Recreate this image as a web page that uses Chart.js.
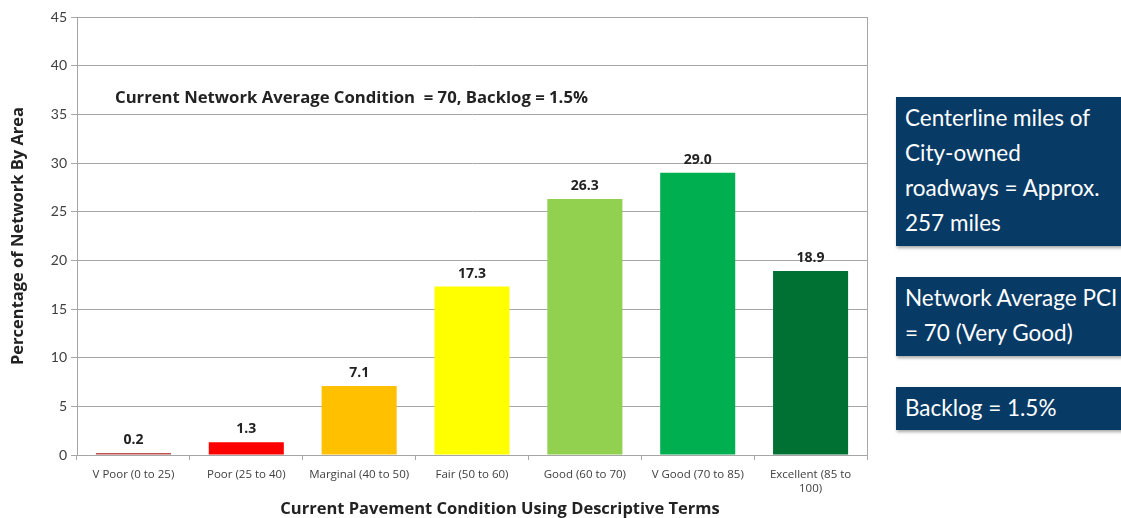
<!DOCTYPE html>
<html>
<head>
<meta charset="utf-8">
<script src="https://cdn.jsdelivr.net/npm/chart.js@4"></script>
<style>
  body { margin: 0; background: #fff; font-family: Lato, "Open Sans", sans-serif; }
  #wrap { position: relative; width: 1121px; height: 518px; overflow: hidden; }
  #chart-box { position: absolute; left: 0; top: 0; width: 880px; height: 518px; }
  .note { position: absolute; left: 115px; top: 85px; font-family: "Open Sans", sans-serif; font-weight: bold;
          font-size: 16.7px; color: #222; white-space: pre; }
  .x-title { position: absolute; left: 250px; width: 500px; top: 496px; text-align: center; white-space: nowrap;
             font-family: "Open Sans", sans-serif; font-weight: bold; font-size: 16.5px; color: #222; }
  .info { position: absolute; left: 896px; width: 240px; background: #083a66; color: #fff;
          font-size: 22.5px; line-height: 35px; padding: 3px 9px; box-sizing: border-box;
          box-shadow: 1px 2px 3px rgba(0,0,0,0.35); white-space: nowrap; }
</style>
</head>
<body>
<div id="wrap">
  <div id="chart-box"><canvas id="pci-chart"></canvas></div>
  <div class="note">Current Network Average Condition  = 70, Backlog = 1.5%</div>
  <div class="x-title">Current Pavement Condition Using Descriptive Terms</div>
  <div class="info" style="top:97px;height:149px;">Centerline miles of<br>City-owned<br>roadways = Approx.<br>257 miles</div>
  <div class="info" style="top:277px;height:79px;">Network Average PCI<br>= 70 (Very Good)</div>
  <div class="info" style="top:387px;height:43px;">Backlog = 1.5%</div>
</div>
<script>
// Chart data
const categories = [
    "V Poor (0 to 25)",
    "Poor (25 to 40)",
    "Marginal (40 to 50)",
    "Fair (50 to 60)",
    "Good (60 to 70)",
    "V Good (70 to 85)",
    ["Excellent (85 to", "100)"]
];
const percentByArea = [0.2, 1.3, 7.1, 17.3, 26.3, 29.0, 18.9];
const barColors = ["#c0504d", "#ff0000", "#ffc000", "#ffff00", "#92d050", "#00b050", "#007033"];
const yTicks = [0, 5, 10, 15, 20, 25, 30, 35, 40, 45];

// Draws the value above each bar
const valueLabels = {
    id: 'valueLabels',
    afterDatasetsDraw: (chart) => {
        const ctx = chart.ctx;
        const meta = chart.getDatasetMeta(0);
        ctx.save();
        ctx.font = "bold 14px 'Open Sans', sans-serif";
        ctx.fillStyle = "#222";
        ctx.textAlign = "center";
        ctx.textBaseline = "bottom";
        meta.data.forEach((bar, i) => {
            ctx.fillText(percentByArea[i].toFixed(1), bar.x, bar.y - 6);
        });
        ctx.restore();
    }
};

const ctx = document.getElementById('pci-chart').getContext('2d');
new Chart(ctx, {
    type: 'bar',
    data: {
        labels: categories,
        datasets: [{
            data: percentByArea,
            backgroundColor: barColors,
            barPercentage: 0.665,
            categoryPercentage: 1
        }]
    },
    options: {
        responsive: true,
        maintainAspectRatio: false,
        animation: false,
        layout: { padding: { top: 17, right: 13, bottom: 0, left: 0 } },
        plugins: { legend: { display: false }, tooltip: { enabled: false } },
        scales: {
            x: {
                offset: true,
                grid: { drawOnChartArea: false, drawTicks: true, tickLength: 5, color: '#a6a6a6', offset: true },
                border: { color: '#a6a6a6' },
                ticks: { color: '#404040', font: { size: 11.5, family: 'Open Sans' }, maxRotation: 0, autoSkip: false, padding: 8, lineHeight: 1.3 },
                afterFit: (scale) => { scale.height = 63; }
            },
            y: {
                min: 0,
                max: 45,
                afterBuildTicks: (scale) => { scale.ticks = yTicks.map(v => ({ value: v })); },
                grid: { color: '#a6a6a6', drawTicks: true, tickLength: 6 },
                border: { color: '#a6a6a6' },
                ticks: { color: '#404040', font: { size: 14, family: 'Lato' }, padding: 4 },
                title: {
                    display: true,
                    text: 'Percentage of Network By Area',
                    color: '#222',
                    font: { size: 16.5, weight: 'bold', family: 'Open Sans' },
                    padding: { top: 8, bottom: 0 }
                },
                afterFit: (scale) => { scale.width = 77; }
            },
            yRight: {
                position: 'right',
                min: 0,
                max: 45,
                grid: { drawOnChartArea: false, drawTicks: false },
                border: { color: '#a6a6a6' },
                ticks: { display: false },
                afterFit: (scale) => { scale.width = 0; }
            }
        }
    },
    plugins: [valueLabels]
});
</script>
</body>
</html>
